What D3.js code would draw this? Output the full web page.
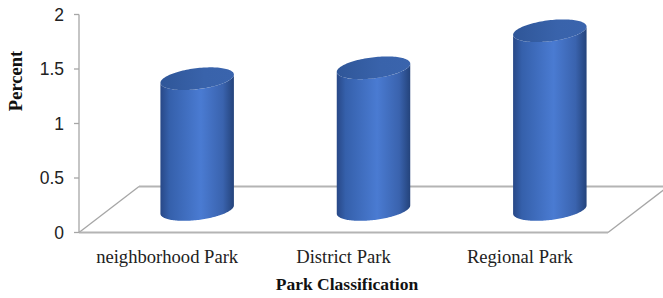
<!DOCTYPE html>
<html><head><meta charset="utf-8">
<script src="https://cdn.jsdelivr.net/npm/d3@7/dist/d3.min.js"></script>
<style>body{margin:0;background:#fff}svg{display:block}</style>
</head><body>
<script>
const categories = ["neighborhood Park", "District Park", "Regional Park"];
const values = [1.2, 1.3, 1.64];
const yTicks = [0, 0.5, 1, 1.5, 2];
const yTickLabels = ["0", "0.5", "1", "1.5", "2"];
const xTitle = "Park Classification";
const yTitle = "Percent";

const W = 663, H = 298;
const svg = d3.select("body").append("svg").attr("width", W).attr("height", H);
const defs = svg.append("defs");

const left = 79, right = 608, y0 = 232.5, yTop = 14.5;
const depthX = 60, depthY = -46;
const x = d3.scaleBand().domain(categories).range([left, right]).padding(0);
const y = d3.scaleLinear().domain([0, 2]).range([y0, yTop]);

const g1 = defs.append("linearGradient").attr("id", "body").attr("x1", 0).attr("x2", 1).attr("y1", 0).attr("y2", 0);
[[0, "#284887"], [0.12, "#3560ab"], [0.55, "#4a7bd2"], [0.85, "#3a63ae"], [1, "#24437b"]]
  .forEach(([o, c]) => g1.append("stop").attr("offset", o).attr("stop-color", c));
const g2 = defs.append("linearGradient").attr("id", "cap").attr("x1", 0).attr("x2", 1).attr("y1", 0).attr("y2", 0);
[[0, "#2f5698"], [0.6, "#3963ab"], [1, "#3a64ad"]]
  .forEach(([o, c]) => g2.append("stop").attr("offset", o).attr("stop-color", c));

// floor
const floor = svg.append("g").attr("fill", "none");
floor.append("line").attr("x1", left).attr("y1", y0).attr("x2", left + depthX).attr("y2", y0 + depthY)
  .attr("stroke", "#a6a6a6").attr("stroke-width", 1.3);
floor.append("line").attr("x1", left + depthX).attr("y1", y0 + depthY).attr("x2", right + depthX).attr("y2", y0 + depthY)
  .attr("stroke", "#b4b4b4").attr("stroke-width", 2);
floor.append("line").attr("x1", right).attr("y1", y0).attr("x2", right + depthX).attr("y2", y0 + depthY)
  .attr("stroke", "#a6a6a6").attr("stroke-width", 1.3);
floor.append("line").attr("x1", left).attr("y1", y0).attr("x2", right).attr("y2", y0)
  .attr("stroke", "#b4b4b4").attr("stroke-width", 2);

// y axis
const ax = svg.append("g");
ax.append("line").attr("x1", left).attr("x2", left).attr("y1", y(2)).attr("y2", y0)
  .attr("stroke", "#a6a6a6").attr("stroke-width", 1.3);
ax.selectAll("line.t").data(yTicks).enter().append("line").attr("class", "t")
  .attr("x1", left - 5).attr("x2", left).attr("y1", d => y(d)).attr("y2", d => y(d))
  .attr("stroke", "#a6a6a6").attr("stroke-width", 1.3);
ax.selectAll("text").data(yTicks).enter().append("text")
  .attr("x", 64).attr("y", d => y(d)).attr("dy", "0.35em").attr("text-anchor", "end")
  .attr("font-family", "Liberation Sans, Arial, sans-serif").attr("font-size", 17.5).attr("fill", "#222")
  .text((d, i) => yTickLabels[i]);

// cylinders
const a = 37, b = 10.5, rot = -7 * Math.PI / 180;
function ellPt(cx, cy, t) {
  const ex = a * Math.cos(t), ey = b * Math.sin(t);
  return [cx + ex * Math.cos(rot) - ey * Math.sin(rot), cy + ex * Math.sin(rot) + ey * Math.cos(rot)];
}
function extremes() {
  let tmin = 0, tmax = 0, xmin = 1e9, xmax = -1e9;
  for (let i = 0; i < 3600; i++) {
    const t = i / 3600 * 2 * Math.PI;
    const p = ellPt(0, 0, t);
    if (p[0] < xmin) { xmin = p[0]; tmin = t; }
    if (p[0] > xmax) { xmax = p[0]; tmax = t; }
  }
  return [tmin, tmax];
}
const [tMin, tMax] = extremes();

const bars = svg.append("g");
categories.forEach((c, i) => {
  const cx = x(c) + x.bandwidth() / 2 + depthX / 2;
  const cyB = y(0) + depthY / 2;
  const cyT = y(values[i]) + depthY / 2;
  const n = 80;
  let s = tMin, e = tMax;
  if (e > s) e -= 2 * Math.PI;
  const bottom = d3.range(n + 1).map(k => ellPt(cx, cyB, s + (e - s) * k / n));
  let s2 = tMax, e2 = tMin;
  if (e2 < s2) e2 += 2 * Math.PI;
  const topArc = d3.range(n + 1).map(k => ellPt(cx, cyT, s2 + (e2 - s2) * k / n));
  bars.append("path").attr("d", d3.line()(bottom.concat(topArc)) + "Z").attr("fill", "url(#body)");
  const capPts = d3.range(0, 121).map(k => ellPt(cx, cyT, k / 120 * 2 * Math.PI));
  bars.append("path").attr("d", d3.line()(capPts) + "Z").attr("fill", "url(#cap)");
});

// category labels
svg.append("g").selectAll("text").data(categories).enter().append("text")
  .attr("x", d => x(d) + x.bandwidth() / 2).attr("y", 263).attr("text-anchor", "middle")
  .attr("font-family", "Liberation Serif, Times New Roman, serif").attr("font-size", 18.6).attr("fill", "#222")
  .text(d => d);

svg.append("text").attr("x", 347).attr("y", 290).attr("text-anchor", "middle")
  .attr("font-family", "Liberation Serif, Times New Roman, serif").attr("font-size", 17.5).attr("font-weight", "bold").attr("fill", "#111")
  .text(xTitle);
svg.append("text").attr("transform", "translate(22,81) rotate(-90)").attr("text-anchor", "middle")
  .attr("font-family", "Liberation Serif, Times New Roman, serif").attr("font-size", 18.5).attr("font-weight", "bold").attr("fill", "#111")
  .text(yTitle);
</script>
</body></html>
